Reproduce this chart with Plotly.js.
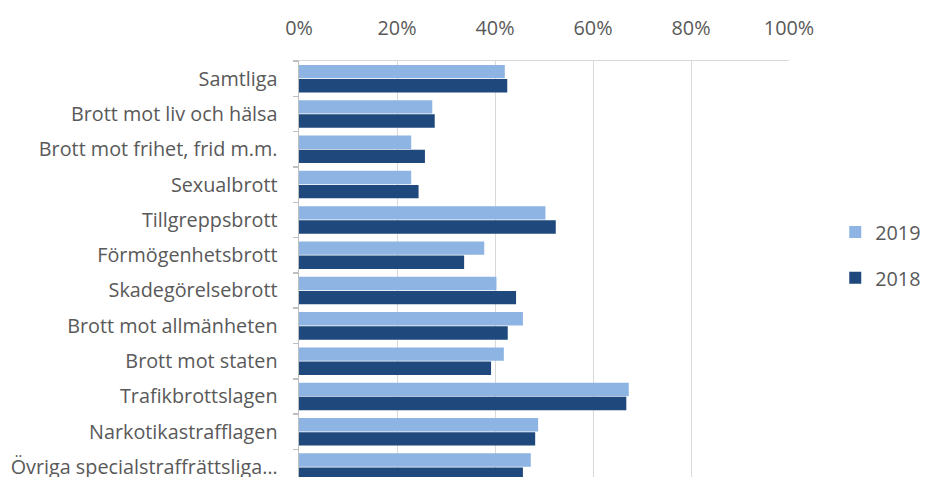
<!DOCTYPE html>
<html><head><meta charset="utf-8">
<script src="https://cdn.plot.ly/plotly-3.0.1.min.js"></script>
<style>html,body{margin:0;padding:0;background:#fff;overflow:hidden}#chart{width:926px;height:477px}</style>
</head><body><div id="chart"></div>
<script>
const categories = ["Samtliga","Brott mot liv och hälsa","Brott mot frihet, frid m.m.","Sexualbrott","Tillgreppsbrott","Förmögenhetsbrott","Skadegörelsebrott","Brott mot allmänheten","Brott mot staten","Trafikbrottslagen","Narkotikastrafflagen","Övriga specialstraffrättsliga…"];
const values2019 = [0.420,0.272,0.229,0.229,0.503,0.378,0.403,0.457,0.418,0.673,0.488,0.473];
const values2018 = [0.425,0.277,0.257,0.244,0.524,0.337,0.443,0.426,0.392,0.668,0.482,0.457];
const xTicks = [0,0.2,0.4,0.6,0.8,1.0];
const xTickText = ["0%","20%","40%","60%","80%","100%"];

const font = {family:"'Open Sans', sans-serif", size:19.8, color:"#595959"};
const data = [
  {type:"bar", orientation:"h", name:"2019", y:categories, x:values2019, marker:{color:"#8EB4E3"}, legendgroup:"a", hoverinfo:"x+y"},
  {type:"bar", orientation:"h", name:"2018", y:categories, x:values2018, marker:{color:"#1F497D"}, legendgroup:"b", hoverinfo:"x+y"}
];
const layout = {
  width:926, height:477,
  margin:{l:299, r:137, t:61, b:0, pad:0, autoexpand:false},
  paper_bgcolor:"#fff", plot_bgcolor:"#fff",
  font:font,
  barmode:"group", bargap:0.2, bargroupgap:0.05,
  showlegend:true,
  legend:{xref:"container", yref:"container", x:0.902, y:0.465, xanchor:"left", yanchor:"middle", traceorder:"grouped", tracegroupgap:17, font:font},
  xaxis:{side:"top", range:[0,1], tickvals:xTicks, ticktext:xTickText, showgrid:true, gridcolor:"#d9d9d9", gridwidth:1,
         showline:true, linecolor:"#d9d9d9", linewidth:1, ticks:"", zeroline:false, tickfont:font, fixedrange:true, ticklabelstandoff:17},
  yaxis:{type:"category", range:[11.28,-0.5], showline:true, linecolor:"#bfbfbf", linewidth:1.5, ticks:"outside", tickson:"boundaries",
         ticklen:5, tickcolor:"#bfbfbf", tickwidth:1.5, showgrid:false, tickfont:font, ticklabelstandoff:16, fixedrange:true}
};
Plotly.newPlot("chart", data, layout, {displayModeBar:false, staticPlot:true});
</script></body></html>
